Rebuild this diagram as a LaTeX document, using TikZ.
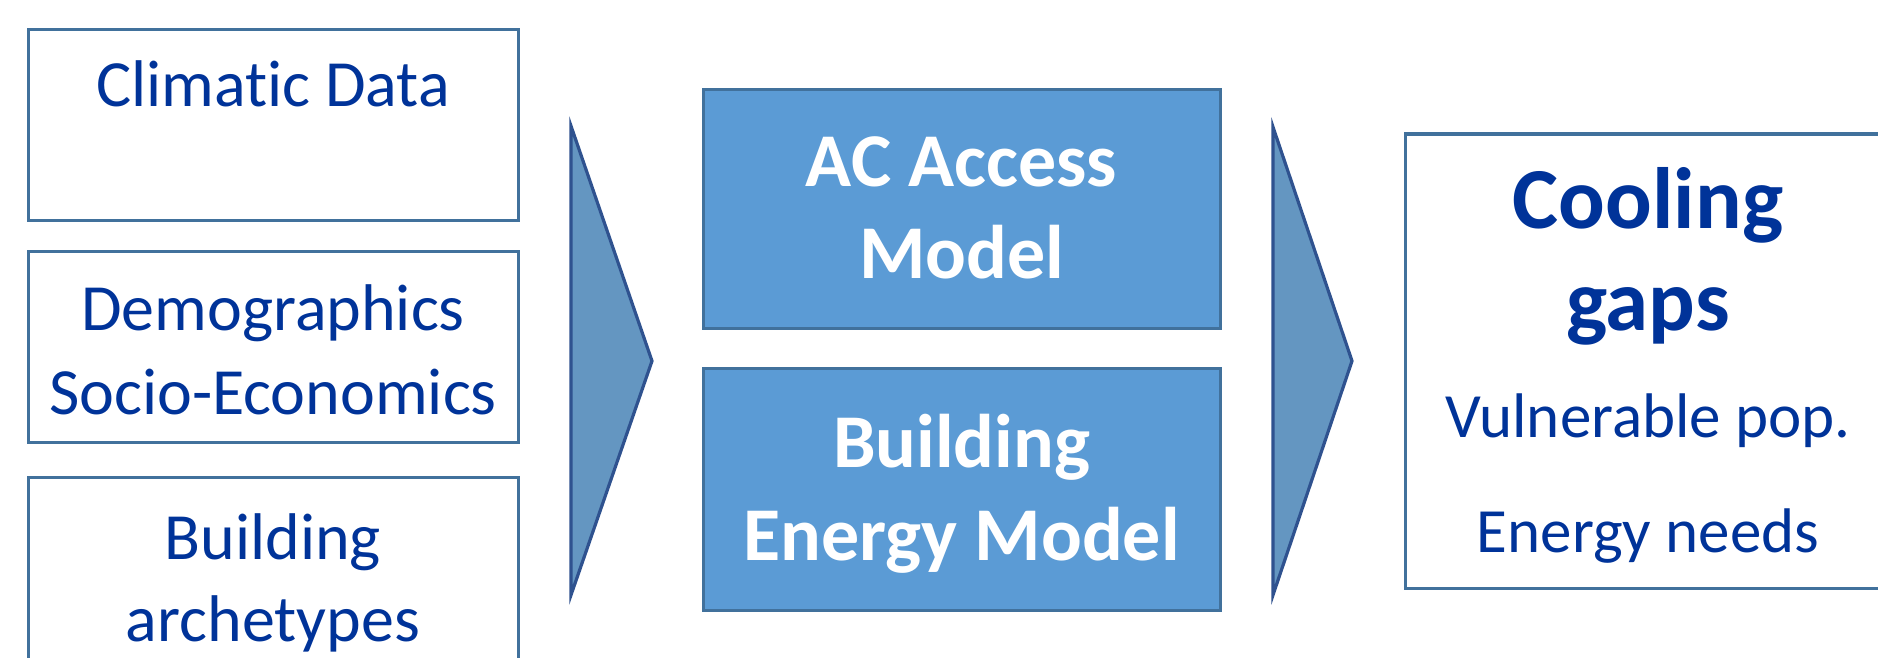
\documentclass[tikz,border=0pt]{standalone}
\usepackage{fontspec}
\setmainfont{Carlito}[Ligatures=NoCommon]
\usepackage{tikz}
\definecolor{textblue}{RGB}{0,51,153}
\definecolor{inputline}{RGB}{65,113,156}
\definecolor{modelfill}{RGB}{91,155,213}
\definecolor{chevfill}{RGB}{100,150,193}
\definecolor{chevline}{RGB}{47,82,143}

\begin{document}
\begin{tikzpicture}[x=0.5pt,y=-0.5pt,
		inputbox/.style={draw=inputline,line width=1.5pt},
		modelbox/.style={fill=modelfill,draw=inputline,line width=1.5pt},
		chev/.style={fill=chevfill,draw=chevline,line width=1.6pt,line join=miter},
		intext/.style={anchor=base,inner sep=0pt,text=textblue,font=\fontsize{33}{40}\selectfont},
		modtext/.style={anchor=base,inner sep=0pt,text=white,font=\bfseries\fontsize{38}{46}\selectfont},
		gaptext/.style={anchor=base,inner sep=0pt,text=textblue,font=\bfseries\fontsize{43.5}{51}\selectfont},
		outtext/.style={anchor=base,inner sep=0pt,text=textblue,font=\fontsize{31.5}{38}\selectfont}]
			\useasboundingbox (0,0) rectangle (1878,658);
			% input boxes
			\draw[inputbox] (28,30) rectangle (518,220);
			\draw[inputbox] (28,251) rectangle (518,442);
			\draw[inputbox] (28,477) rectangle (518,700);
			\node[intext] (climatic) at (273,107) {Climatic Data};
			\node[intext] (demo) at (273,330) {Demographics};
			\node[intext] (socio) at (273,414) {Socio-Economics};
			\node[intext] (build) at (273,559) {Building};
			\node[intext] (arche) at (273,641) {archetypes};
			% chevrons
			\filldraw[chev] (571,126) -- (652,361) -- (571,595) -- cycle;
			\filldraw[chev] (1273,127) -- (1352,361) -- (1273,595) -- cycle;
			% models
			\filldraw[modelbox] (703,90) rectangle (1220,328);
			\filldraw[modelbox] (703,368) rectangle (1220,610);
			\node[modtext] (acaccess) at (961.5,186) {AC Access};
			\node[modtext] (acmodel) at (961.5,278) {Model};
			\node[modtext] (bembuild) at (961.5,467) {Building};
			\node[modtext] (bemenergy) at (961.5,560) {Energy Model};
			% output
			\draw[inputbox] (1405,134) rectangle (1892,588);
			\node[gaptext] (cooling) at (1648,228) {Cooling};
			\node[gaptext] (gaps) at (1648,330) {gaps};
			\node[outtext] (vulner) at (1648,437) {Vulnerable pop.};
			\node[outtext] (needs) at (1648,552) {Energy needs};
		\end{tikzpicture}
\end{document}
